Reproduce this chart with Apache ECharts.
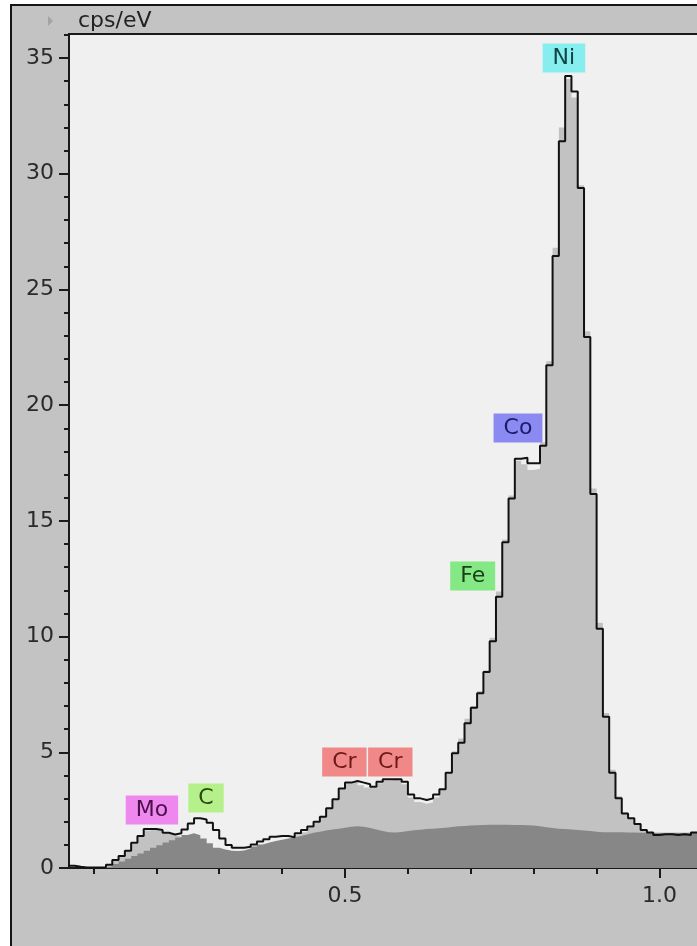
<!DOCTYPE html>
<html>
<head>
<meta charset="utf-8">
<script src="https://cdn.jsdelivr.net/npm/echarts@6/dist/echarts.min.js"></script>
<style>
html,body{margin:0;padding:0;background:#fff;}
#chart{width:697px;height:946px;}
</style>
</head>
<body>
<div id="chart"></div>
<script>
// Histogram bins (keV): first bin start and bin width
const binStart = 0.06;
const binWidth = 0.01;

// Black outlined spectrum (cps/eV), one value per bin 0.06 .. 1.05
const lineCps = [
  0.10, 0.05, 0.02, 0.02, 0.02, 0.03, 0.14, 0.35, 0.52, 0.75,
  1.09, 1.38, 1.69, 1.69, 1.64, 1.52, 1.45, 1.50, 1.66, 1.92,
  2.15, 2.10, 1.96, 1.64, 1.28, 0.99, 0.88, 0.88, 0.92, 1.02,
  1.14, 1.24, 1.35, 1.38, 1.38, 1.33, 1.50, 1.64, 1.79, 2.00,
  2.22, 2.58, 2.97, 3.44, 3.69, 3.76, 3.69, 3.62, 3.51, 3.73,
  3.83, 3.83, 3.83, 3.73, 3.18, 3.01, 2.94, 3.01, 3.18, 3.40,
  4.12, 4.96, 5.41, 6.26, 6.93, 7.55, 8.47, 9.80, 11.72, 14.08,
  15.97, 17.69, 17.73, 17.49, 17.49, 18.25, 21.73, 26.45, 31.40, 34.22,
  33.55, 29.38, 22.95, 16.16, 10.34, 6.54, 4.12, 3.01, 2.36, 2.15,
  1.90, 1.64, 1.53, 1.43, 1.46, 1.46, 1.43, 1.46, 1.43, 1.53
];

// Light grey filled spectrum
const lightCps = [
  0, 0, 0, 0, 0, 0, 0.10, 0.30, 0.50, 0.74,
  1.05, 1.36, 1.62, 1.66, 1.60, 1.50, 1.42, 1.36, 1.25, 1.15,
  1.05, 0.95, 0.85, 0.72, 0.65, 0.62, 0.62, 0.66, 0.75, 0.85,
  0.95, 1.05, 1.12, 1.18, 1.25, 1.32, 1.42, 1.55, 1.74, 1.96,
  2.20, 2.56, 2.95, 3.40, 3.66, 3.72, 3.58, 3.48, 3.45, 3.66,
  3.78, 3.80, 3.78, 3.62, 3.05, 2.85, 2.78, 2.84, 3.05, 3.38,
  4.15, 5.05, 5.60, 6.45, 7.00, 7.65, 8.55, 9.95, 11.95, 14.20,
  16.10, 17.60, 17.45, 17.20, 17.25, 18.40, 21.90, 26.80, 32.00, 34.10,
  33.30, 29.50, 23.20, 16.40, 10.60, 6.70, 4.25, 3.10, 2.40, 2.15,
  1.90, 1.64, 1.55, 1.45, 1.45, 1.45, 1.45, 1.45, 1.45, 1.50
];

// Dark grey filled background spectrum
const darkCps = [
  0, 0, 0, 0, 0, 0.02, 0.06, 0.17, 0.28, 0.40,
  0.52, 0.63, 0.75, 0.87, 0.98, 1.10, 1.20, 1.32, 1.43, 1.50,
  1.42, 1.28, 1.07, 0.88, 0.80, 0.75, 0.74, 0.76, 0.84, 0.93,
  1.02, 1.10, 1.17, 1.22, 1.27, 1.32, 1.38, 1.45, 1.52, 1.57,
  1.62, 1.66, 1.70, 1.74, 1.78, 1.80, 1.78, 1.73, 1.66, 1.60,
  1.55, 1.53, 1.56, 1.60, 1.63, 1.65, 1.68, 1.70, 1.72, 1.74,
  1.77, 1.80, 1.82, 1.84, 1.85, 1.86, 1.87, 1.87, 1.87, 1.87,
  1.86, 1.86, 1.85, 1.84, 1.80, 1.76, 1.73, 1.70, 1.68, 1.66,
  1.64, 1.62, 1.60, 1.57, 1.55, 1.55, 1.54, 1.54, 1.53, 1.53,
  1.52, 1.52, 1.52, 1.52, 1.52, 1.52, 1.52, 1.52, 1.52, 1.52
];

// Element line labels
const elemNames    = ['Mo', 'C', 'Cr', 'Cr', 'Fe', 'Co', 'Ni'];
const elemEnergies = [0.193, 0.279, 0.499, 0.572, 0.703, 0.775, 0.848];
const elemLabelY   = [1.86, 2.38, 3.93, 3.93, 11.97, 18.37, 34.36];
const elemBoxColor = ['#ee88ee', '#b6f08a', '#f08888', '#f08888', '#84e884', '#8a8af2', '#86eeee'];
const elemTextColor= ['#4a104a', '#2a4a10', '#701818', '#701818', '#1a401a', '#1c1c6a', '#0e4444'];

// Axis ticks
const xLabelTicks = [0.5, 1.0];
const xMinorTicks = [0.1, 0.2, 0.3, 0.4, 0.5, 0.6, 0.7, 0.8, 0.9, 1.0];
const yLabelTicks = [0, 5, 10, 15, 20, 25, 30, 35];
const yMinorTicks = [0,1,2,3,4,5,6,7,8,9,10,11,12,13,14,15,16,17,18,19,20,21,22,23,24,25,26,27,28,29,30,31,32,33,34,35,36];

function toSteps(vals) {
  const pts = vals.map((v, i) => [+(binStart + i * binWidth).toFixed(2), v]);
  pts.push([+(binStart + vals.length * binWidth).toFixed(2), vals[vals.length - 1]]);
  return pts;
}

const FONT = 'DejaVu Sans';
const X_MIN = 0.0612, X_MAX = 1.0596, Y_MAX = 36.04;
const chart = echarts.init(document.getElementById('chart'), null, {renderer: 'canvas'});

const markData = elemNames.map((n, i) => ({
  name: n,
  coord: [elemEnergies[i], elemLabelY[i]],
  label: {
    backgroundColor: elemBoxColor[i],
    color: elemTextColor[i]
  }
}));

const option = {
  animation: false,
  backgroundColor: '#c3c3c3',
  graphic: [
    {type: 'rect', shape: {x: 0, y: 0, width: 11, height: 946}, style: {fill: '#ffffff'}, silent: true},
    {type: 'rect', shape: {x: 0, y: 0, width: 697, height: 4}, style: {fill: '#ffffff'}, silent: true},
    {type: 'rect', shape: {x: 10, y: 4, width: 2, height: 942}, style: {fill: '#151515'}, silent: true},
    {type: 'rect', shape: {x: 10, y: 4, width: 687, height: 2}, style: {fill: '#151515'}, silent: true},
    {type: 'rect', shape: {x: 68, y: 33, width: 629, height: 2}, style: {fill: '#1a1a1a'}, silent: true, z: 10},
    {type: 'polygon', shape: {points: [[48, 16], [48, 26], [53, 21]]}, style: {fill: '#a4a4a4'}, silent: true},
    {type: 'text', left: 78, top: 10, style: {text: 'cps/eV', font: '22px "DejaVu Sans"', fill: '#222222'}, silent: true}
  ],
  grid: {
    left: 69, top: 34, right: 0, bottom: 78,
    show: true, backgroundColor: '#f0f0f0', borderWidth: 0
  },
  xAxis: [
    {
      type: 'value', min: X_MIN, max: X_MAX,
      axisLine: {show: true, lineStyle: {color: '#1a1a1a', width: 2}},
      axisTick: {show: true, customValues: xLabelTicks, length: 10, lineStyle: {color: '#1a1a1a', width: 2}},
      axisLabel: {show: true, customValues: xLabelTicks, formatter: v => v.toFixed(1),
                  fontSize: 22, fontFamily: FONT, color: '#2a2a2a', margin: 17},
      splitLine: {show: false}
    },
    {
      type: 'value', min: X_MIN, max: X_MAX, position: 'bottom', offset: 0,
      axisLine: {show: false},
      axisTick: {show: true, customValues: xMinorTicks, length: 6, lineStyle: {color: '#1a1a1a', width: 2}},
      axisLabel: {show: false},
      splitLine: {show: false}
    }
  ],
  yAxis: [
    {
      type: 'value', min: 0, max: Y_MAX, position: 'left',
      axisLine: {show: true, lineStyle: {color: '#1a1a1a', width: 2}},
      axisTick: {show: true, customValues: yLabelTicks, length: 10, lineStyle: {color: '#1a1a1a', width: 2}},
      axisLabel: {show: true, customValues: yLabelTicks, fontSize: 22, fontFamily: FONT, color: '#2a2a2a', margin: 15},
      splitLine: {show: false}
    },
    {
      type: 'value', min: 0, max: Y_MAX, position: 'left', offset: 0,
      axisLine: {show: false},
      axisTick: {show: true, customValues: yMinorTicks, length: 5, lineStyle: {color: '#1a1a1a', width: 2}},
      axisLabel: {show: false},
      splitLine: {show: false}
    }
  ],
  series: [
    {
      type: 'line', step: 'end', data: toSteps(lightCps), symbol: 'none', silent: true,
      xAxisIndex: 0, yAxisIndex: 0, z: 1,
      lineStyle: {opacity: 0, width: 0},
      areaStyle: {color: '#c2c2c2', opacity: 1}
    },
    {
      type: 'line', step: 'end', data: toSteps(darkCps), symbol: 'none', silent: true,
      xAxisIndex: 0, yAxisIndex: 0, z: 2,
      lineStyle: {opacity: 0, width: 0},
      areaStyle: {color: '#878787', opacity: 1}
    },
    {
      type: 'line', step: 'end', data: toSteps(lineCps), symbol: 'none', silent: true,
      xAxisIndex: 0, yAxisIndex: 0, z: 3,
      lineStyle: {color: '#111111', width: 2},
      markPoint: {
        symbol: 'rect', symbolSize: 1,
        itemStyle: {color: 'rgba(0,0,0,0)'},
        label: {
          show: true, position: 'top', distance: 0,
          formatter: p => p.name,
          fontSize: 22, fontFamily: FONT, padding: [4, 10, 3, 10]
        },
        data: markData
      }
    }
  ]
};
chart.setOption(option);
</script>
</body>
</html>
